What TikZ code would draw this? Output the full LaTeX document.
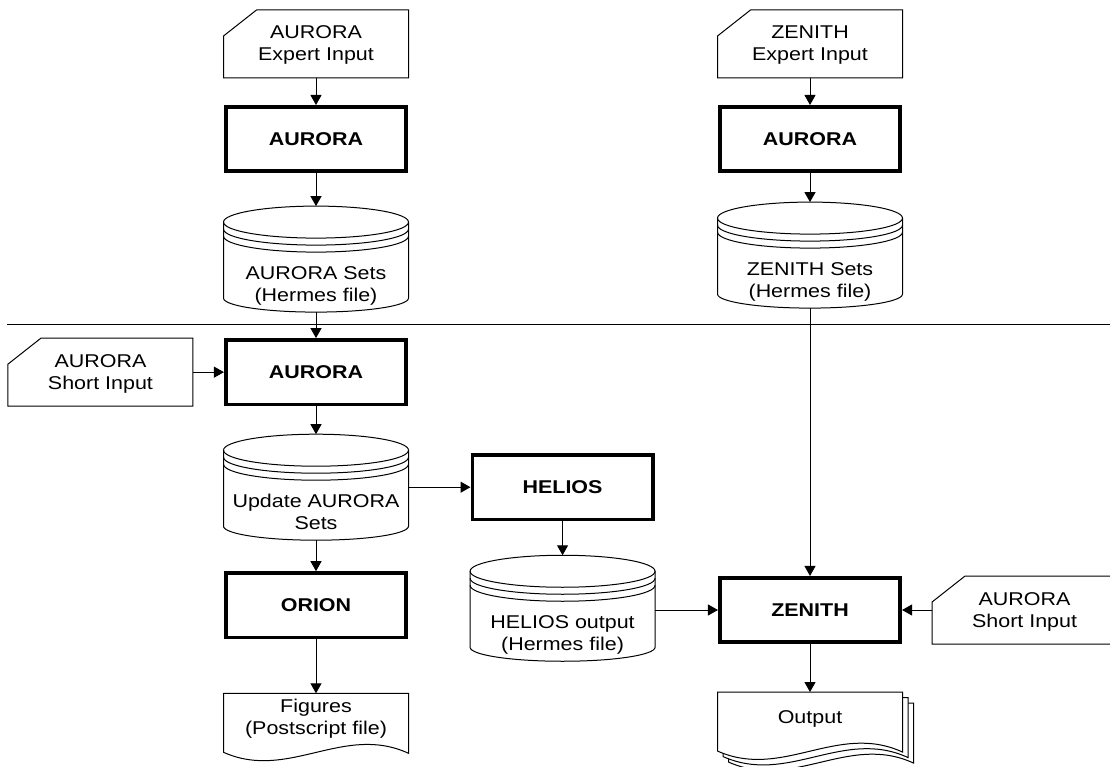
\documentclass[tikz,border=0pt]{standalone}
\usepackage{fontspec}
\setmainfont{Liberation Sans}[FakeStretch=1.16]
\usetikzlibrary{arrows.meta, positioning, backgrounds}

\tikzset{
    % Base styles
    basenode/.style={
        align=center, font=\fontsize{18.5}{22}\selectfont,
        inner sep=0pt, outer sep=0pt
    },
    thinline/.style={line width=1pt, black},
    % Specific node types
    procnode/.style={basenode, draw, line width=3.6pt, outer sep=1.8pt,
        font=\fontsize{18.5}{22}\selectfont\bfseries,
        minimum width=180.5pt, minimum height=64.5pt, text height=13pt, text depth=0pt},
    cardnode/.style={basenode, minimum width=185pt, minimum height=68pt,
        text height=40pt, text depth=6pt},
    cylnode/.style={basenode, minimum width=185pt, minimum height=106pt,
        text height=90pt, text depth=6pt},
    docnode/.style={basenode, minimum width=185pt, minimum height=68pt,
        text height=20pt, text depth=6pt},
    % Arrows
    myarrow/.style={thinline, -{Triangle[length=10pt, width=11pt]}},
}

% Outlines drawn behind the named nodes
\newcommand{\cardshape}[1]{%
  \begin{scope}[on background layer]
    \draw[thinline, fill=white] ([xshift=33pt]#1.north west) -- (#1.north east)
      -- (#1.south east) -- (#1.south west) -- ([yshift=-26pt]#1.north west) -- cycle;
  \end{scope}}
\newcommand{\cylshape}[1]{%
  \begin{scope}[on background layer]
    \draw[thinline, fill=white] ([yshift=-16pt]#1.north west) -- ([yshift=14pt]#1.south west)
      arc[start angle=180, end angle=360, x radius=92.5pt, y radius=14pt]
      -- ([yshift=-16pt]#1.north east)
      arc[start angle=0, end angle=180, x radius=92.5pt, y radius=16pt] -- cycle;
    \foreach \d in {16,23,30}
      \draw[thinline] ([yshift=-\d pt]#1.north west)
        arc[start angle=180, end angle=360, x radius=92.5pt, y radius=16pt];
  \end{scope}}
\newcommand{\docshape}[2][0]{%
  \begin{scope}[on background layer]
    \draw[thinline, fill=white] ([xshift=#1pt, yshift=-#1pt]#2.north west)
      -- ([xshift=#1pt, yshift=-#1pt]#2.north east)
      -- ([xshift=#1pt, yshift=8pt-#1pt]#2.south east)
      .. controls ([xshift=120pt+#1pt, yshift=38pt-#1pt]#2.south west)
      and ([xshift=65pt+#1pt, yshift=-20pt-#1pt]#2.south west)
      .. ([xshift=#1pt, yshift=9pt-#1pt]#2.south west) -- cycle;
  \end{scope}}

\begin{document}
\begin{tikzpicture}[x=1pt, y=-1pt]
\useasboundingbox (0,0) rectangle (1110,767);

% Expert input part
\node (ein1) [cardnode] at (316,44) {AURORA\\Expert Input};
\node (aur1) [procnode, below=27pt of ein1] {AURORA};
\node (set1) [cylnode, below=33pt of aur1] {AURORA Sets\\(Hermes file)};

\node (ein2) [cardnode] at (810,44) {ZENITH\\Expert Input};
\node (aur3) [procnode, below=27pt of ein2] {AURORA};
\node (set2) [cylnode, below=29pt of aur3] {ZENITH Sets\\(Hermes file)};

% Separator
\draw[thinline] (7,324) -- (1110,324);

% Short input part
\node (aur2) [procnode, below=26pt of set1] {AURORA};
\node (sin1) [cardnode, left=31pt of aur2] {AURORA\\Short Input};
\node (upd) [cylnode, below=28pt of aur2] {Update AURORA\\Sets};
\node (orion) [procnode, below=31pt of upd] {ORION};
\node (fig) [docnode, below=54pt of orion] {Figures\\(Postscript file)};

\node (helios) [procnode, right=62pt of upd] {HELIOS};
\node (hout) [cylnode, below=34pt of helios] {HELIOS output\\(Hermes file)};

\node (zen) [procnode] at (810,610) {ZENITH};
\node (sin2) [cardnode, right=30pt of zen] {AURORA\\Short Input};
\node (out) [docnode, text height=13pt, text depth=19pt, below=48pt of zen] {Output};

% Outlines
\cardshape{ein1}
\cardshape{ein2}
\cardshape{sin1}
\cardshape{sin2}
\cylshape{set1}
\cylshape{set2}
\cylshape{upd}
\cylshape{hout}
\docshape{fig}
\docshape[11]{out}
\docshape[5.5]{out}
\docshape{out}

% Arrows
\draw[myarrow] (ein1) -- (aur1);
\draw[myarrow] (aur1) -- (set1);
\draw[myarrow] (ein2) -- (aur3);
\draw[myarrow] (aur3) -- (set2);
\draw[myarrow] (set1) -- (aur2);
\draw[myarrow] (sin1) -- (aur2);
\draw[myarrow] (aur2) -- (upd);
\draw[myarrow] (upd) -- (helios);
\draw[myarrow] (upd) -- (orion);
\draw[myarrow] (orion) -- (fig);
\draw[myarrow] (helios) -- (hout);
\draw[myarrow] (hout.east |- zen.west) -- (zen.west);
\draw[myarrow] (set2) -- (zen);
\draw[myarrow] (sin2) -- (zen);
\draw[myarrow] (zen) -- (out);

\end{tikzpicture}
\end{document}
